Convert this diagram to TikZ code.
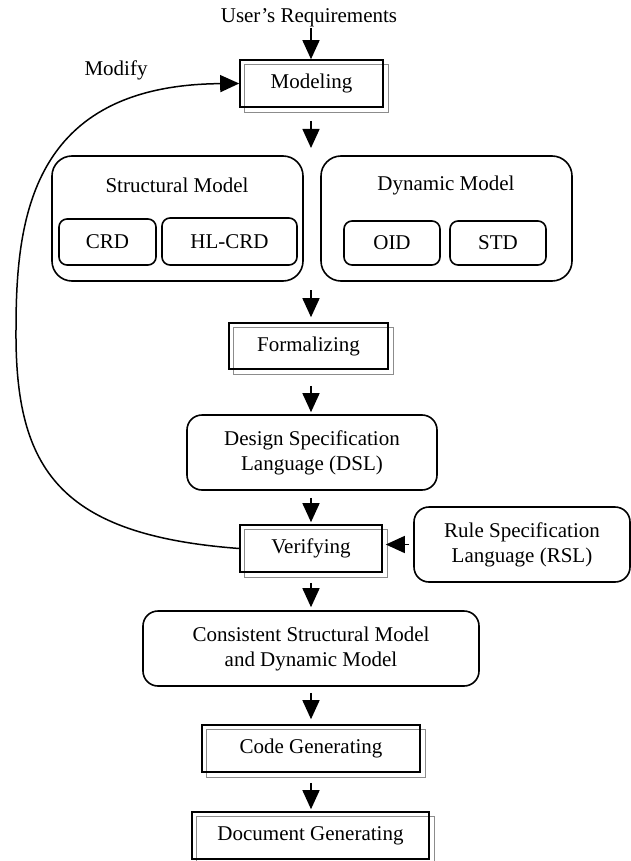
\documentclass[tikz,border=0pt]{standalone}
\usepackage{fontspec}
\setmainfont{Liberation Serif}
\usetikzlibrary{arrows.meta,backgrounds}
\begin{document}
\begin{tikzpicture}[x=1pt,y=-1pt,
 every node/.style={font=\fontsize{21}{25}\selectfont},
 dbox/.style={draw=black, line width=1.6pt, inner sep=0pt},
 rbox/.style={draw=black, line width=1.6pt, rounded corners=15pt, inner sep=0pt, align=center},
 gbox/.style={draw=black, line width=1.6pt, rounded corners=20pt, inner sep=0pt, minimum width=251pt, minimum height=125pt},
 sbox/.style={draw=black, line width=1.6pt, rounded corners=8pt, inner sep=0pt},
 arr/.style={line width=1.5pt, -{Triangle[length=19pt,width=17pt]}},
 graybox/.style={draw=black!45, line width=1.3pt}]
\useasboundingbox (0,0) rectangle (631,861);

\coordinate (axis) at (311,0);

\node[inner sep=0pt] (req) at (309,18) {User’s Requirements};
\node[dbox, minimum width=143pt, minimum height=47pt] (mod) at (311.5,83.5) {Modeling};
\node (modify) at (116,70) {Modify};

\node[gbox] (str) at (177.5,218.5) {};
\node (strl) at (177,185) {Structural Model};
\node[sbox, minimum width=97pt, minimum height=46pt] (crd) at (107.5,242) {CRD};
\node[sbox, minimum width=135pt, minimum height=47pt] (hl) at (229.5,241.5) {HL-CRD};

\node[gbox] (dyn) at (446.5,218.5) {};
\node (dynl) at (446,185) {Dynamic Model};
\node[sbox, minimum width=96pt, minimum height=44pt] (oid) at (392,243) {OID};
\node[sbox, minimum width=96pt, minimum height=44pt] (std) at (498,243) {STD};

\coordinate (gtop) at (311,156);
\coordinate (gbot) at (311,281);

\node[dbox, minimum width=159pt, minimum height=46pt] (form) at (308.5,346) {Formalizing};
\node[rbox, minimum width=250pt, minimum height=75pt] (dsl) at (312,452.5) {Design Specification\\Language (DSL)};
\node[dbox, minimum width=142pt, minimum height=47pt] (verif) at (311,548.5) {Verifying};
\node[rbox, minimum width=216pt, minimum height=75pt] (rsl) at (522,544.5) {Rule Specification\\Language (RSL)};
\node[rbox, minimum width=336pt, minimum height=75pt] (cons) at (311,648.5) {Consistent Structural Model\\and Dynamic Model};
\node[dbox, minimum width=218pt, minimum height=47pt] (code) at (311,748.5) {Code Generating};
\node[dbox, minimum width=237pt, minimum height=47pt] (doc) at (310.5,835.5) {Document Generating};

\begin{scope}[on background layer]
\foreach \n in {mod,form,verif,code,doc}
  \draw[graybox] ([shift={(5pt,-5pt)}]\n.south west) rectangle ([shift={(5pt,-5pt)}]\n.north east);
\end{scope}

\draw[arr] ([yshift=-1pt]req.south -| axis) -- (mod.north -| axis);
\draw[arr] ([yshift=-13pt]mod.south -| axis) -- ([yshift=8pt]gtop);
\draw[arr] ([yshift=-9pt]gbot) -- ([yshift=5pt]form.north -| axis);
\draw[arr] ([yshift=-16pt]form.south -| axis) -- ([yshift=2pt]dsl.north -| axis);
\draw[arr] ([yshift=-7pt]dsl.south -| axis) -- ([yshift=2pt]verif.north -| axis);
\draw[arr] ([yshift=-10pt]verif.south -| axis) -- ([yshift=3pt]cons.north -| axis);
\draw[arr] ([yshift=-6pt]cons.south -| axis) -- ([yshift=5pt]code.north -| axis);
\draw[arr] ([yshift=-10pt]code.south -| axis) -- ([yshift=2pt]doc.north -| axis);
\draw[arr] ([xshift=-4pt]rsl.west) -- ([xshift=3pt]rsl.west -| verif.east);

\draw[arr] (verif.west) .. controls (60,535) and (15,470) .. (16,330)
  .. controls (16,220) and (30,85) .. (mod.west);
\end{tikzpicture}
\end{document}
